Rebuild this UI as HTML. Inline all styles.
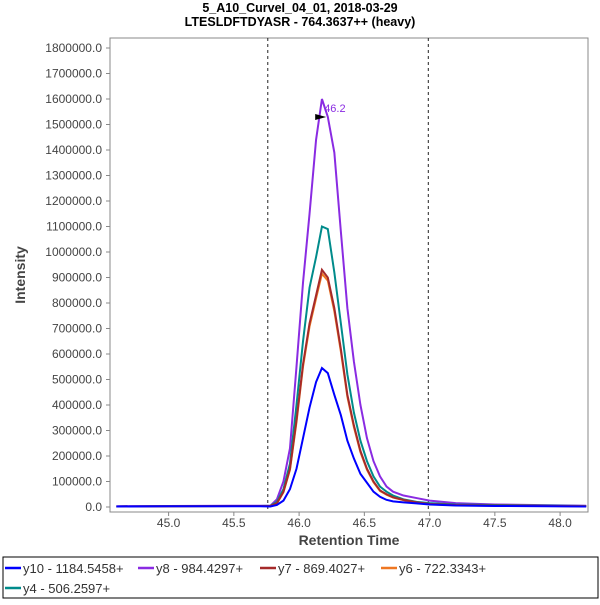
<!DOCTYPE html>
<html><head><meta charset="utf-8"><style>
body{margin:0;background:#fff;font-family:"Liberation Sans","DejaVu Sans",sans-serif}
</style></head><body>
<svg width="600" height="600" xmlns="http://www.w3.org/2000/svg">
<text x="300" y="12" text-anchor="middle" font-weight="bold" font-size="12.5" fill="#000">5_A10_CurveI_04_01, 2018-03-29</text>
<text x="300" y="26" text-anchor="middle" font-weight="bold" font-size="12.5" fill="#000">LTESLDFTDYASR - 764.3637++ (heavy)</text>
<rect x="110" y="38" width="478" height="474" fill="#fff" stroke="#888"/>
<g id="yt"></g>
<g id="xt"></g>
<g id="series"></g>
<text x="25" y="275" transform="rotate(-90 25 275)" text-anchor="middle" font-weight="bold" font-size="14" fill="#444">Intensity</text>
<text x="349" y="545" text-anchor="middle" font-weight="bold" font-size="14" fill="#444">Retention Time</text>
<rect x="3" y="557" width="595" height="41" fill="#fff" stroke="#000"/>
<g id="legend"></g>
</svg>
<script>
const times=[44.6,45.0,45.5,45.7,45.78,45.83,45.88,45.93,45.98,46.03,46.08,46.13,46.175,46.22,46.27,46.32,46.37,46.42,46.47,46.52,46.57,46.62,46.67,46.72,46.8,46.9,47.0,47.2,47.5,48.2];
const y10=[2000,3000,3000,3000,2000,8000,25000,70000,150000,270000,390000,490000,545000,525000,440000,360000,260000,190000,130000,95000,60000,40000,28000,22000,18000,14000,10000,6000,4000,2000];
const y8=[3000,4000,5000,5000,5000,30000,100000,230000,550000,880000,1150000,1440000,1600000,1530000,1390000,1080000,780000,570000,400000,270000,180000,120000,80000,60000,45000,35000,25000,15000,10000,5000];
const y7=[2000,3000,4000,4000,4000,15000,60000,150000,340000,560000,720000,830000,930000,900000,780000,620000,440000,320000,220000,150000,100000,65000,50000,38000,28000,18000,12000,8000,6000,3000];
const y6=[2000,3000,4000,4000,4000,14000,58000,146000,333000,550000,708000,818000,915000,888000,768000,610000,432000,313000,215000,146000,97000,63000,48000,37000,27000,17000,11000,7000,5000,3000];
const y4=[2000,3000,4000,4000,5000,20000,70000,170000,400000,650000,860000,980000,1100000,1090000,920000,720000,520000,370000,260000,180000,120000,80000,60000,45000,30000,20000,15000,10000,8000,4000];
const yTicks=[0,100000,200000,300000,400000,500000,600000,700000,800000,900000,1000000,1100000,1200000,1300000,1400000,1500000,1600000,1700000,1800000];
const xTicks=[45.0,45.5,46.0,46.5,47.0,47.5,48.0];
const boundaries=[45.76,46.99];
const peakTime=46.2, peakValue=1600000;
const names=["y10 - 1184.5458+","y8 - 984.4297+","y7 - 869.4027+","y6 - 722.3343+","y4 - 506.2597+"];
const NS="http://www.w3.org/2000/svg";
const X=t=>168.6+(t-45)*130.5, Y=v=>507-v/100000*25.5;
function mk(tag,at,p){const e=document.createElementNS(NS,tag);for(const k in at)e.setAttribute(k,at[k]);p.appendChild(e);return e;}
const yt=document.getElementById('yt'),xt=document.getElementById('xt'),sg=document.getElementById('series'),lg=document.getElementById('legend');
yTicks.forEach(v=>{const y=Y(v);mk('line',{x1:106,x2:110,y1:y,y2:y,stroke:'#888'},yt);
const t=mk('text',{x:102,y:y+4,'text-anchor':'end','font-size':12,fill:'#444'},yt);t.textContent=v.toFixed(1);

});
xTicks.forEach(v=>{const x=X(v);mk('line',{x1:x,x2:x,y1:512,y2:516,stroke:'#888'},xt);
const t=mk('text',{x:x,y:527,'text-anchor':'middle','font-size':12,fill:'#444'},xt);t.textContent=v.toFixed(1);

});
boundaries.forEach(b=>{const l=mk('line',{x1:X(b),x2:X(b),y1:38,y2:512,stroke:'#222','stroke-dasharray':'3,3'},sg);

});
const series=[[y10,'#0000ff'],[y8,'#8a2be2'],[y7,'#a52a2a'],[y6,'#ee7722'],[y4,'#008b8b']];
const order=[1,4,3,2,0];
order.forEach(i=>{const [d,c]=series[i];const p=mk('polyline',{points:d.map((v,j)=>X(times[j])+','+Y(v)).join(' '),fill:'none',stroke:c,'stroke-width':2},sg);

});
const px=X(peakTime),py=Y(peakValue);
const tri=mk('polygon',{points:(px-10)+','+(py+15)+' '+(px-10)+','+(py+21)+' '+(px+1)+','+(py+18),fill:'#000'},sg);


const pl=mk('text',{x:px-1,y:py+13,'font-size':11,fill:'#8a2be2'},sg);pl.textContent=peakTime.toFixed(1);


const lpos=[[5,568],[138,568],[260,568],[381,568],[5,588]];
names.forEach((n,i)=>{const g=mk('g',{},lg);


const [x,y]=lpos[i];mk('line',{x1:x,x2:x+16,y1:y,y2:y,stroke:series[i][1],'stroke-width':2.5},g);
const t=mk('text',{x:x+18,y:y+5,'font-size':13,fill:'#333'},g);t.textContent=n;});
</script>
</body></html>
